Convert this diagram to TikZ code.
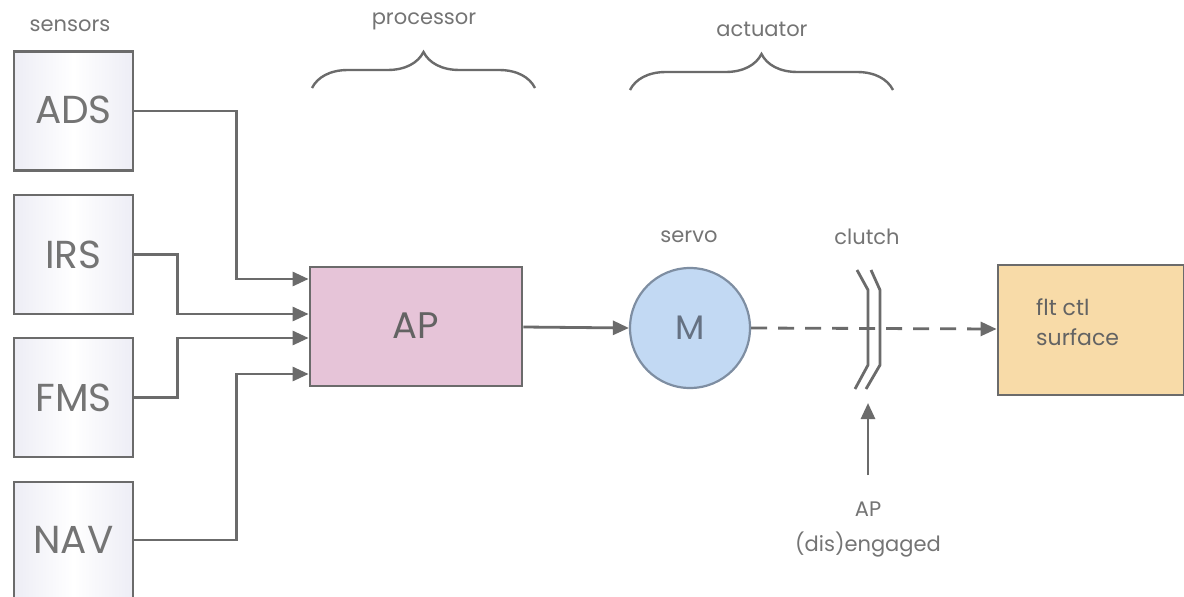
\documentclass[tikz,border=0pt]{standalone}
\usepackage{fontspec}
\setmainfont{Poppins}
\usetikzlibrary{arrows.meta,decorations.pathreplacing,calc}
\definecolor{txt}{HTML}{747474}
\definecolor{ln}{HTML}{6B6B6B}
\definecolor{apfill}{HTML}{E6C4D8}
\definecolor{mfill}{HTML}{C2D9F3}
\definecolor{mline}{HTML}{7E8EA2}
\definecolor{fltfill}{HTML}{F8DBA8}
\definecolor{sensside}{HTML}{EDEDF5}
\tikzset{
  sensbox/.style={draw=ln, line width=2.8pt, minimum width=119, minimum height=119, inner sep=0pt,
    left color=sensside, right color=sensside, middle color=white, text=txt, font=\fontsize{39}{44}\selectfont},
  lbl/.style={text=txt, font=\fontsize{21}{25}\selectfont, inner sep=0pt},
  conn/.style={draw=ln, line width=2.8pt},
  arr/.style={conn, -{Triangle[length=16pt,width=14pt]}},
  bracestyle/.style={draw=ln, line width=2.4pt, decorate, decoration={brace, amplitude=36pt, aspect=0.5}},
}
\begin{document}
\begin{tikzpicture}[x=1pt,y=-1pt]
\useasboundingbox (0,0) rectangle (1184,597);
\fill[white] (0,0) rectangle (1184,597);

% labels
\node[lbl] (lsens) at (70,26) {sensors};
\node[lbl] (lproc) at (424,21) {processor};
\node[lbl] (lact) at (762,29) {actuator};
\node[lbl] (lservo) at (689,237) {servo};
\node[lbl] (lclutch) at (867,237) {clutch};

% braces
\draw[bracestyle] (312,88) -- (535,88);
\draw[bracestyle] (630,90) -- (893,90);

% sensors
\node[sensbox] (ADS) at (73.5,111) {\raisebox{3pt}{ADS}};
\node[sensbox] (IRS) at (73.5,254.5) {IRS};
\node[sensbox] (FMS) at (73.5,397.5) {FMS};
\node[sensbox, minimum height=124] (NAV) at (73.5,544) {\raisebox{8pt}{NAV}};

% AP
\node[draw=ln, line width=2.8pt, fill=apfill, minimum width=212, minimum height=119, inner sep=0pt,
  text=txt!85!black, font=\fontsize{37}{40}\selectfont] (AP) at (416,326.5) {\raisebox{2pt}{AP}};

\coordinate (in1) at (AP.west |- 0,279);
\coordinate (in2) at (AP.west |- 0,314);
\coordinate (in3) at (AP.west |- 0,338);
\coordinate (in4) at (AP.west |- 0,374);

\draw[arr] (ADS.east) -| ([xshift=-72pt]in1) -- (in1);
\draw[arr] (IRS.east) -| ([xshift=-131pt]in2) -- (in2);
\draw[arr] (FMS.east) -| ([xshift=-131pt]in3) -- (in3);
\draw[arr] ([yshift=4pt]NAV.east) -| ([xshift=-72pt]in4) -- (in4);

% servo
\node[circle, draw=mline, line width=2.2pt, fill=mfill, minimum size=120, inner sep=0pt,
  text=mline!80!black, font=\fontsize{34}{38}\selectfont] (M) at (690,328) {M};
\draw[arr] (AP.east |- 0,327) -- (M.west);

% flt ctl surface
\node[draw=ln, line width=2.8pt, fill=fltfill, minimum width=186, minimum height=130, inner sep=0pt] (FLT) at (1091,330) {};
\node[anchor=north west, align=left, text=txt!85!black, font=\fontsize{22}{30}\selectfont, inner sep=0pt] (fltt) at (1036,298) {flt ctl\\surface};

% dashed connector
\draw[arr, dash pattern=on 16pt off 11pt] (M.east) -- (FLT.west |- 0,329);

% clutch
\draw[conn, line join=round] (857,270) -- (868,290) -- (868,365) -- (855,389);
\draw[conn, line join=round] (871,270) -- (880,290) -- (880,365) -- (866,389);

% engage
\node[lbl, align=center, font=\fontsize{21}{35}\selectfont] (eng) at (868,530) {AP\\(dis)engaged};
\coordinate (engbase) at (868,475);
\coordinate (clutchbot) at (868,403);
\draw[arr] (engbase) -- (clutchbot);
\end{tikzpicture}
\end{document}
